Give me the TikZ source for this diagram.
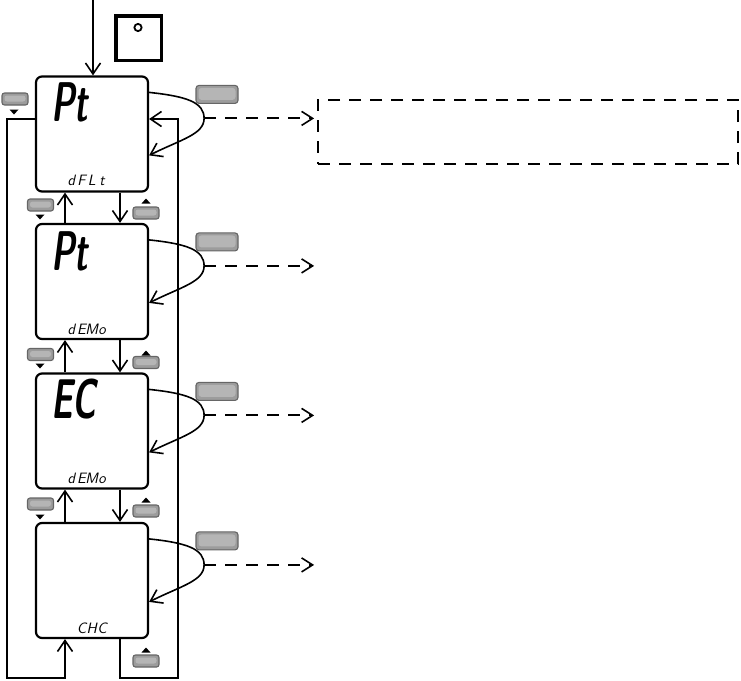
\documentclass[tikz,border=0pt]{standalone}
\usepackage{fontspec}
\usetikzlibrary{arrows.meta,calc}
\newcommand\cel[1]{\makebox[10.25pt][c]{#1}}
\newcommand\bigtxt[1]{\scalebox{0.6}[1]{\fontsize{56}{56}\selectfont\sffamily\bfseries\itshape #1}}
\newcommand\smalltxt[1]{\fontsize{15}{15}\selectfont\sffamily\itshape #1}
\tikzset{
  disp/.style={draw, line width=2.2pt, rounded corners=6pt, minimum width=112pt, minimum height=115pt, inner sep=0pt},
  tipb/.style={-{Straight Barb[length=11pt,width=15pt,line width=1.6pt]}},
  conn/.style={line width=2pt, tipb},
  loopc/.style={line width=1.6pt, tipb},
  dasharr/.style={line width=2pt, dash pattern=on 12pt off 9pt, -{Straight Barb[length=11pt,width=14pt,line width=1.6pt]}},
  dashbox/.style={draw, line width=2.2pt, dash pattern=on 12pt off 9pt, minimum width=420pt, minimum height=64pt, inner sep=0pt},
  btnbase/.style={draw=black!60, fill=gray!78, line width=1.1pt, inner sep=0pt,
    path picture={\fill[gray!58] ($(path picture bounding box.north west)+(2.5pt,-2.5pt)$) rectangle ($(path picture bounding box.south east)+(-2.5pt,3.5pt)$);}},
  bigbtn/.style={btnbase, rounded corners=3pt, minimum width=42pt, minimum height=18pt},
  smallbtn/.style={btnbase, rounded corners=2.5pt, minimum width=26pt, minimum height=12pt},
  bigtext/.style={anchor=base west, inner sep=0pt},
  smalltext/.style={anchor=base west, inner sep=0pt},
}
\newcommand\tridown[2]{\fill (#1-4.5,#2-2.5) -- (#1+4.5,#2-2.5) -- (#1,#2+2.5) -- cycle;}
\newcommand\triup[2]{\fill (#1-4.5,#2+2.5) -- (#1+4.5,#2+2.5) -- (#1,#2-2.5) -- cycle;}
\begin{document}
\begin{tikzpicture}[x=1pt,y=-1pt]
\useasboundingbox (0,0) rectangle (741,680);

% displays
\node[disp] (d1) at (92,134) {};
\node[disp] (d2) at (92,281.5) {};
\node[disp] (d3) at (92,431) {};
\node[disp] (d4) at (92,580.5) {};

% display texts
\node[bigtext] (t1) at (51,121) {\bigtxt{Pt}};
\node[bigtext] (t2) at (51,270) {\bigtxt{Pt}};
\node[bigtext] (t3) at (51,418) {\bigtxt{EC}};
\node[smalltext] (s1) at (66,185.5) {\smalltxt{\cel{d}\cel{F}\cel{L}\cel{t}}};
\node[smalltext] (s2) at (66,334) {\smalltxt{\cel{d}\cel{E}\cel{M}\cel{o}}};
\node[smalltext] (s3) at (66,483) {\smalltxt{\cel{d}\cel{E}\cel{M}\cel{o}}};
\node[smalltext] (s4) at (66,633) {\smalltxt{\cel{}\cel{C}\cel{H}\cel{C}}};

% square icon
\node[draw, line width=3.5pt, minimum width=45.5pt, minimum height=44.5pt, inner sep=0pt] (sq) at (138.5,38) {};
\draw[line width=1.8pt] (138,27.5) circle (3.6pt);

% entry arrow
\coordinate (entry) at (93,0);
\draw[conn] (entry) -- (entry |- d1.north);

% down / up arrows between displays
\draw[conn] ([xshift=28pt]d1.south) -- ([xshift=28pt]d2.north);
\draw[conn] ([xshift=28pt]d2.south) -- ([xshift=28pt]d3.north);
\draw[conn] ([xshift=28pt]d3.south) -- ([xshift=28pt]d4.north);
\draw[conn] ([xshift=-27pt]d2.north) -- ([xshift=-27pt]d1.south);
\draw[conn] ([xshift=-27pt]d3.north) -- ([xshift=-27pt]d2.south);
\draw[conn] ([xshift=-27pt]d4.north) -- ([xshift=-27pt]d3.south);

% outer loops
\coordinate (lc) at (7,678);
\coordinate (rc) at (178,678);
\draw[conn] ([yshift=15pt]d1.west) -| (lc) -| ([xshift=-27pt]d4.south);
\draw[conn] ([xshift=28pt]d4.south) |- (rc) |- ([yshift=15pt]d1.east);

% side loops and dashed arrows
\foreach \d in {d1,d2,d3,d4}{
  \coordinate (\d t) at ([xshift=55pt,yshift=-43pt]\d.north east);
  \coordinate (\d a) at ([xshift=165pt,yshift=-43pt]\d.north east);
  \draw[loopc] ([yshift=-17pt]\d.north east) .. controls +(38,4) and +(0,-16) .. (\d t)
     .. controls +(0,16) and +(32,-16) .. ([yshift=-80pt]\d.north east);
  \draw[dasharr] (\d t) -- (\d a);
  \node[bigbtn] (\d b) at ([xshift=125pt,yshift=-19pt]\d.north) {};
}

% dashed note box
\node[dashbox] (note) at (528,132) {};

% small buttons with triangles
\node[smallbtn] (lb0) at (15,99) {};   \tridown{14}{112}
\node[smallbtn] (lb1) at (40.5,205) {}; \tridown{40}{217}
\node[smallbtn] (rb1) at (146,213) {};  \triup{146}{201}
\node[smallbtn] (lb2) at (40.5,354.5) {}; \tridown{40}{366}
\node[smallbtn] (rb2) at (146,362.5) {}; \triup{146}{353}
\node[smallbtn] (lb3) at (40.5,504) {}; \tridown{40}{517}
\node[smallbtn] (rb3) at (146,511) {};  \triup{146}{500}
\node[smallbtn] (rb4) at (146,661) {};  \triup{146}{650}
\end{tikzpicture}
\end{document}
